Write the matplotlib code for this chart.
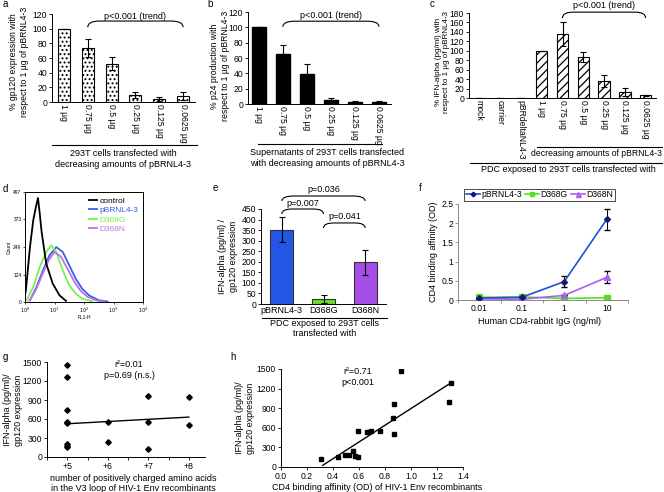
import numpy as np
import matplotlib
matplotlib.use("Agg")
import matplotlib.pyplot as plt
from matplotlib.path import Path
from matplotlib.patches import PathPatch
import matplotlib.transforms as mtransforms

plt.rcParams['font.family'] = ['Liberation Sans', 'DejaVu Sans']
plt.rcParams['hatch.linewidth'] = 0.9
plt.rcParams['axes.linewidth'] = 0.7

W, H = 664, 492
FS_T = 6.2
FS_L = 6.5

# ---------------- data ----------------
dose_labels = ['1 µg', '0.75 µg', '0.5 µg', '0.25 µg', '0.125 µg', '0.0625 µg']
gp120_pct = [100, 74, 52, 10, 4, 8]
gp120_err = [0, 12, 9, 4, 3, 5]
p24_pct = [100, 65, 39, 5, 2.5, 3]
p24_err = [0, 12, 13, 3, 1, 1.5]
pdc_labels = ['mock', 'carrier', 'pBRdeltaNL4-3'] + dose_labels
ifn_pct = [1, 1, 1, 100, 136, 87, 36, 13, 6]
ifn_err = [0, 0, 0, 0, 25, 11, 13, 8, 1]

flow_names = ['control', 'pBRNL4-3', 'D368G', 'D368N']
ctrl_logx = [0.0, 0.03, 0.17, 0.28, 0.37, 0.44, 0.5, 0.56, 0.72, 0.94, 1.17, 1.39]
ctrl_cnt = [30, 53, 250, 370, 430, 470, 400, 320, 173, 83, 30, 5]
blue_logx = [0.17, 0.39, 0.61, 0.83, 1.06, 1.28, 1.5, 1.72, 1.94, 2.17, 2.5, 2.8]
blue_cnt = [8, 68, 143, 211, 248, 226, 166, 105, 60, 30, 8, 2]
green_logx = [0.06, 0.28, 0.5, 0.72, 0.89, 1.06, 1.28, 1.5, 1.72, 1.94, 2.28]
green_cnt = [8, 68, 158, 226, 256, 226, 143, 75, 38, 15, 3]
purple_logx = [0.15, 0.37, 0.59, 0.81, 1.0, 1.22, 1.44, 1.67, 1.89, 2.11, 2.44, 2.7]
purple_cnt = [6, 55, 125, 190, 226, 205, 150, 92, 50, 24, 6, 1]

env_names = ['pBRNL4-3', 'D368G', 'D368N']
ifn_per_gp120 = [352, 25, 198]
ifn_per_gp120_err = [58, 20, 60]

igg_labels = ['0.01', '0.1', '1', '10']
cd4_wt = [0.05, 0.07, 0.48, 2.1]
cd4_wt_err = [0, 0, 0.14, 0.27]
cd4_g = [0.07, 0.08, 0.04, 0.06]
cd4_n = [0.03, 0.02, 0.12, 0.59]
cd4_n_err = [0, 0, 0, 0.16]

g_charge = [5, 5, 5, 5, 5, 5, 5, 5, 6, 6, 7, 7, 7, 8, 8]
g_ifn = [1460, 1270, 740, 560, 540, 200, 180, 160, 550, 240, 970, 550, 130, 950, 500]
g_fit = (35.0, 350.0)  # slope, intercept

h_cd4 = [0.31, 0.44, 0.49, 0.52, 0.55, 0.57, 0.59, 0.59, 0.66, 0.69, 0.76, 0.87, 0.86, 0.87, 0.92, 1.31, 1.29]
h_ifn = [118, 154, 190, 190, 241, 170, 150, 554, 538, 554, 554, 503, 744, 964, 1477, 1292, 990]
h_fit = (1280.0, -385.0)

# ---------------- helpers ----------------
fig = plt.figure(figsize=(W / 100, H / 100), dpi=100)
ov = fig.add_axes([0, 0, 1, 1])
ov.set_xlim(0, W)
ov.set_ylim(H, 0)
ov.axis('off')


def ax_px(L, T, R, B):
    return fig.add_axes([L / W, 1 - B / H, (R - L) / W, (B - T) / H])


def style(ax):
    for s in ['top', 'right']:
        ax.spines[s].set_visible(False)
    ax.tick_params(labelsize=FS_T, length=2, width=0.6, pad=1.5)


def bracket(ax, x1, x2, y0, y1, dx, text, ty, fs=FS_L):
    tr = mtransforms.blended_transform_factory(ax.transData, ax.transAxes)
    verts = [(x1, y0), (x1, y1), (x1 + dx, y1), (x2 - dx, y1), (x2, y1), (x2, y0)]
    codes = [Path.MOVETO, Path.CURVE3, Path.CURVE3, Path.LINETO, Path.CURVE3, Path.CURVE3]
    ax.add_patch(PathPatch(Path(verts, codes), fill=False, lw=0.8, transform=tr, clip_on=False))
    ax.text((x1 + x2) / 2, ty, text, transform=tr, ha='center', va='center', fontsize=fs)


def hline(x1, x2, y):
    ov.plot([x1, x2], [y, y], color='black', lw=0.8)


def otext(x, y, s, **kw):
    kw.setdefault('fontsize', FS_L)
    kw.setdefault('ha', 'center')
    kw.setdefault('va', 'center')
    ov.text(x, y, s, **kw)


# ---------------- panel a ----------------
ax = ax_px(52, 14, 195, 102)
style(ax)
xa = np.arange(len(dose_labels))
ax.bar(xa, gp120_pct, width=0.5, color='white', edgecolor='black', hatch='....', lw=0.8,
       yerr=gp120_err, error_kw=dict(elinewidth=0.8, capsize=2, capthick=0.8))
ax.set_xlim(-0.5, 5.5)
ax.set_ylim(0, 120)
ax.set_yticks(range(0, 121, 20))
ax.set_xticks(xa)
ax.set_xticklabels(dose_labels, rotation=-90, va='top', ha='center')
ax.tick_params(axis='x', length=0)
bracket(ax, 1, 5, 0.85, 0.92, 0.5, 'p<0.001 (trend)', 0.975)
hline(52, 197, 145)
otext(123, 159, '293T cells transfected with\ndecreasing amounts of pBRNL4-3')
otext(19, 62, '% gp120 expression with\nrespect to 1 µg of pBRNL4-3', rotation=90, fontsize=6.2)

# ---------------- panel b ----------------
ax = ax_px(248, 12, 391, 104)
style(ax)
ax.bar(xa, p24_pct, width=0.6, color='black', edgecolor='black',
       yerr=p24_err, error_kw=dict(elinewidth=0.8, capsize=2, capthick=0.8))
ax.set_xlim(-0.45, 5.5)
ax.set_ylim(0, 120)
ax.set_yticks(range(0, 121, 20))
ax.set_xticks(xa)
ax.set_xticklabels(dose_labels, rotation=-90, va='top', ha='center')
ax.tick_params(axis='x', length=0)
bracket(ax, 1, 5, 0.84, 0.90, 0.5, 'p<0.001 (trend)', 0.965)
hline(258, 382, 144)
otext(327, 158, 'Supernatants of 293T cells transfected\nwith decreasing amounts of pBRNL4-3')
otext(220, 66, '% p24 production with\nrespect to 1 µg of pBRNL4-3', rotation=90, fontsize=6.2)

# ---------------- panel c ----------------
ax = ax_px(469, 13, 656, 98)
style(ax)
xc = np.arange(len(pdc_labels))
ax.bar(xc, ifn_pct, width=0.55, color='white', edgecolor='black', hatch='////', lw=0.8,
       yerr=ifn_err, error_kw=dict(elinewidth=0.8, capsize=2, capthick=0.8))
ax.set_xlim(-0.5, 8.5)
ax.set_ylim(0, 180)
ax.set_yticks(range(0, 181, 20))
ax.set_xticks(xc)
ax.set_xticklabels(pdc_labels, rotation=-90, va='top', ha='center')
ax.tick_params(axis='x', length=0)
bracket(ax, 4, 8, 0.94, 1.01, 0.5, 'p<0.001 (trend)', 1.085)
hline(537, 662, 147)
otext(596, 153.5, 'decreasing amounts of pBRNL4-3', fontsize=6.2)
hline(470, 662, 163)
otext(568, 170, 'PDC exposed to 293T cells transfected with')
otext(443, 62, '% IFN-alpha (pg/ml) with\nrespect to 1 µg of pBRNL4-3', rotation=90, fontsize=5.8)

# ---------------- panel d ----------------
ax = ax_px(25, 192, 143, 302)
flow_cols = ['black', '#3a5ee8', '#7af04a', '#c070e6']
ax.plot(10 ** np.array(blue_logx), blue_cnt, color=flow_cols[1], lw=1.3, label=flow_names[1])
ax.plot(10 ** np.array(green_logx), green_cnt, color=flow_cols[2], lw=1.3, label=flow_names[2])
ax.plot(10 ** np.array(purple_logx), purple_cnt, color=flow_cols[3], lw=1.3, label=flow_names[3])
ax.plot(10 ** np.array(ctrl_logx), ctrl_cnt, color=flow_cols[0], lw=1.3, label=flow_names[0])
ax.set_xscale('log')
ax.set_xlim(1, 1e4)
ax.set_ylim(0, 497)
ax.set_yticks([0, 124, 249, 373, 497])
ax.set_xticks([1, 10, 100, 1000, 10000])
ax.set_xticklabels(['$10^0$', '$10^1$', '$10^2$', '$10^3$', '$10^4$'])
ax.minorticks_off()
ax.tick_params(labelsize=3.5, length=1.5, width=0.5, pad=1)
ax.set_ylabel('Count', fontsize=3.5, labelpad=1)
ax.set_xlabel('FL1-H', fontsize=3.5, labelpad=0.5)
h_, l_ = ax.get_legend_handles_labels()
order = [3, 0, 1, 2]
leg = ax.legend([h_[i] for i in order], [l_[i] for i in order], loc='upper left',
                bbox_to_anchor=(0.5, 1.0), frameon=False, fontsize=6.0, handlelength=0.9,
                handletextpad=0.35, labelspacing=0.2, borderaxespad=0.2, labelcolor='linecolor')

# ---------------- panel e ----------------
ax = ax_px(261, 209, 386, 304)
style(ax)
xe = np.arange(len(env_names))
ax.bar(xe, ifn_per_gp120, width=0.55, color=['#2456e6', '#62e024', '#a64ee8'], edgecolor='#333333', lw=0.8,
       yerr=ifn_per_gp120_err, error_kw=dict(elinewidth=0.8, capsize=2.5, capthick=0.8))
ax.set_xlim(-0.5, 2.5)
ax.set_ylim(0, 450)
ax.set_yticks(range(0, 451, 50))
ax.set_xticks(xe)
ax.set_xticklabels(env_names, fontsize=FS_L)
ax.tick_params(axis='x', length=0)
bracket(ax, 0, 2, 1.084, 1.137, 0.3, 'p=0.036', 1.2)
bracket(ax, 0, 1, 0.947, 1.0, 0.25, 'p=0.007', 1.063)
bracket(ax, 1, 2, 0.80, 0.853, 0.25, 'p=0.041', 0.916)
hline(262, 387, 318)
otext(325, 328.5, 'PDC exposed to 293T cells\ntransfected with')
otext(228, 256, 'IFN-alpha (pg/ml) /\ngp120 expression', rotation=90)

# ---------------- panel f ----------------
ax = ax_px(458, 204, 628, 300)
style(ax)
for s in ['left', 'bottom']:
    ax.spines[s].set_color('#888888')
xf = np.arange(len(igg_labels))
hw = ax.errorbar(xf, cd4_wt, yerr=cd4_wt_err, color='#2050d8', marker='D', ms=3, mfc='#15157a', mec='#15157a',
                 lw=1.2, ecolor='black', elinewidth=0.7, capsize=2, label='pBRNL4-3', zorder=3)
hg, = ax.plot(xf, cd4_g, color='#55e01f', marker='s', ms=4, lw=1.2, label='D368G', zorder=2)
hn = ax.errorbar(xf, cd4_n, yerr=cd4_n_err, color='#b05ef0', marker='^', ms=4.5, lw=1.2,
                 ecolor='black', elinewidth=0.7, capsize=2, label='D368N', zorder=2.5)
ax.set_xlim(-0.5, 3.5)
ax.set_ylim(0, 2.5)
ax.set_yticks([0, 0.5, 1, 1.5, 2, 2.5])
ax.set_yticklabels(['0', '0.5', '1', '1.5', '2', '2.5'])
ax.set_xticks(xf)
ax.set_xticklabels(igg_labels)
ax.set_xticks(np.arange(-0.5, 3.6, 1), minor=True)
ax.tick_params(axis='x', which='major', length=0, pad=3)
ax.tick_params(axis='x', which='minor', length=2.5, width=0.6, color='#888888')
ax.tick_params(axis='y', color='#888888')
lg = ax.legend([hw[0], hg, hn[0]], ['pBRNL4-3', 'D368G', 'D368N'], loc='center', bbox_to_anchor=(0.48, 1.095),
               ncol=3, fontsize=FS_T, handlelength=1.6, columnspacing=0.4, handletextpad=0.15, borderpad=0.2,
               fancybox=False, edgecolor='black', framealpha=1, markerscale=0.8)
lg.get_frame().set_linewidth(0.5)
otext(540, 321, 'Human CD4-rabbit IgG (ng/ml)')
otext(434, 252, 'CD4 binding affinity (OD)', rotation=90)

# ---------------- panel g ----------------
ax = ax_px(47, 362, 205, 457)
style(ax)
ax.plot(g_charge, g_ifn, 'D', color='black', ms=2.8, lw=0)
gx = np.array([min(g_charge), max(g_charge)])
ax.plot(gx, g_fit[0] * gx + g_fit[1], color='black', lw=1.0)
ax.set_xlim(4.5, 8.4)
ax.set_ylim(0, 1500)
ax.set_yticks(range(0, 1501, 300))
ax.set_xticks([5, 6, 7, 8])
ax.set_xticklabels(['+5', '+6', '+7', '+8'])
ax.set_xticks([4.5, 5.5, 6.5, 7.5], minor=True)
ax.tick_params(axis='x', which='minor', length=2, width=0.6)
ax.text(0.52, 0.92, 'r²=0.01\np=0.69 (n.s.)', transform=ax.transAxes, ha='center', va='center',
        fontsize=FS_L, linespacing=1.3)
otext(133, 483.5, 'number of positively charged amino acids\nin the V3 loop of HIV-1 Env recombinants')
otext(13, 410, 'IFN-alpha (pg/ml)/\ngp120 expression', rotation=90)

# ---------------- panel h ----------------
ax = ax_px(281, 369, 463, 467)
style(ax)
ax.plot(h_cd4, h_ifn, 's', color='black', ms=3.2, lw=0)
hx = np.array([0.32, 1.31])
ax.plot(hx, h_fit[0] * hx + h_fit[1], color='black', lw=1.0)
ax.set_xlim(0, 1.4)
ax.set_ylim(0, 1500)
ax.set_yticks(range(0, 1501, 300))
ax.set_xticks(np.arange(0, 1.41, 0.2))
ax.set_xticklabels([f'{v:.1f}' for v in np.arange(0, 1.41, 0.2)])
ax.text(0.42, 0.92, 'r²=0.71\np<0.001', transform=ax.transAxes, ha='center', va='center',
        fontsize=FS_L, linespacing=1.3)
otext(377, 487, 'CD4 binding affinity (OD) of HIV-1 Env recombinants')
otext(245, 418, 'IFN-alpha (pg/ml)/\ngp120 expression', rotation=90)

# ---------------- panel letters ----------------
for s, x, y in [('a', 3, 4), ('b', 207, 4), ('c', 430, 4), ('d', 3, 189), ('e', 213, 188),
                ('f', 419, 188), ('g', 3, 357), ('h', 230, 357)]:
    otext(x, y, s, fontsize=7, ha='left')

fig.savefig('out.png', dpi=100)
